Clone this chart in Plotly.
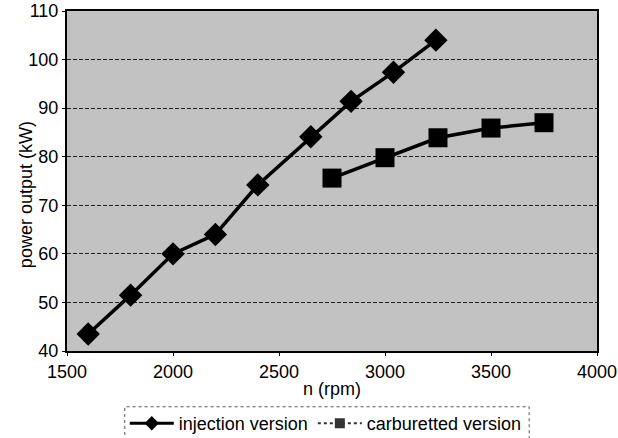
import plotly.graph_objects as go

inj_rpm = [1600, 1800, 2000, 2200, 2400, 2650, 2840, 3040, 3240]
inj_kw = [43.5, 51.5, 60.0, 64.0, 74.2, 84.1, 91.4, 97.4, 104.0]
carb_rpm = [2750, 3000, 3250, 3500, 3750]
carb_kw = [75.6, 79.8, 83.9, 85.9, 87.0]

x_ticks = [1500, 2000, 2500, 3000, 3500, 4000]
y_ticks = [40, 50, 60, 70, 80, 90, 100, 110]

font = "Liberation Sans, Arial, sans-serif"

fig = go.Figure()
fig.add_trace(go.Scatter(
    x=inj_rpm, y=inj_kw, mode="lines+markers", name="injection version",
    line=dict(color="black", width=3.5), showlegend=False,
    marker=dict(symbol="diamond", size=18, color="black"),
))
fig.add_trace(go.Scatter(
    x=carb_rpm, y=carb_kw, mode="lines+markers", name="carburetted version",
    line=dict(color="black", width=3.5), showlegend=False,
    marker=dict(symbol="square", size=19, color="black"),
))
# legend entries with smaller symbols
fig.add_trace(go.Scatter(
    x=[None], y=[None], mode="lines+markers", name="injection version",
    line=dict(color="black", width=3),
    marker=dict(symbol="diamond", size=11, color="black"),
))
fig.add_trace(go.Scatter(
    x=[None], y=[None], mode="lines+markers", name="carburetted version",
    line=dict(color="#333333", width=2, dash="dot"),
    marker=dict(symbol="square", size=10, color="#333333"),
))

fig.update_layout(
    width=618, height=438,
    margin=dict(l=67, r=21, t=11, b=87, autoexpand=False),
    paper_bgcolor="white",
    plot_bgcolor="#c2c2c2",
    font=dict(family=font, color="black", size=18),
    showlegend=True,
    legend=dict(
        orientation="h", x=0.109, xanchor="left", y=-0.159, yanchor="top",
        font=dict(size=18), bgcolor="rgba(0,0,0,0)", itemwidth=44,
        tracegroupgap=0,
    ),
    xaxis=dict(
        range=[1500, 4000], tickvals=x_ticks, showgrid=False, zeroline=False,
        showline=True, linecolor="black", linewidth=2, mirror=True,
        ticks="outside", ticklen=3, tickcolor="black", automargin=False,
        title=dict(text="n (rpm)", font=dict(size=18), standoff=2),
        tickfont=dict(size=18),
    ),
    yaxis=dict(
        range=[40, 110], tickvals=y_ticks, showgrid=True, gridcolor="#222222",
        griddash="4px,2px", gridwidth=1, zeroline=False,
        showline=True, linecolor="black", linewidth=2, mirror=True,
        ticks="outside", ticklen=3, tickcolor="black", automargin=False,
        tickfont=dict(size=18),
    ),
    annotations=[dict(
        text="power output (kW)", textangle=-90, xref="paper", yref="paper",
        x=-0.077, y=0.459, xanchor="center", yanchor="middle",
        showarrow=False, font=dict(size=18),
    )],
    shapes=[dict(
        type="rect", xref="paper", yref="paper",
        x0=0.109, x1=0.872, y0=-0.27, y1=-0.164,
        line=dict(color="#555555", width=1, dash="dot"),
    )],
)

fig.write_html("out.html", post_script="document.body.style.margin='0';",
               config={"displayModeBar": False})
